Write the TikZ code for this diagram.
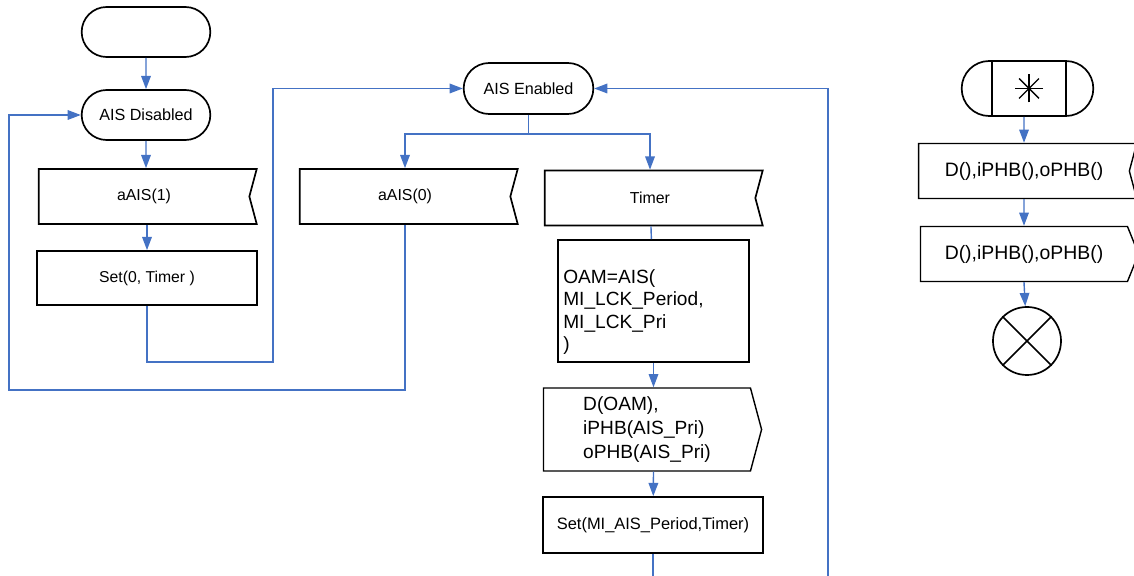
\documentclass[tikz,border=0pt]{standalone}
\usepackage{fontspec}
\setmainfont{Liberation Sans}
\usetikzlibrary{shapes.symbols,shapes.misc,arrows.meta}
\definecolor{linkblue}{HTML}{4472C4}
\begin{document}
\begin{tikzpicture}[x=0.025cm,y=-0.025cm,
		state/.style={draw,line width=1.2pt,rounded rectangle,minimum width=3.45cm,minimum height=1.25cm,font=\fontsize{11.5}{13}\selectfont},
		task/.style={draw,line width=1.2pt,rectangle,minimum width=5.5cm,minimum height=1.35cm,font=\fontsize{11.2}{13}\selectfont},
		insig/.style={draw,line width=1.2pt,signal,signal to=nowhere,signal from=east,signal pointer angle=150,minimum width=5.45cm,minimum height=1.375cm,font=\fontsize{11.3}{13}\selectfont},
		outsig/.style={draw,line width=1pt,signal,signal to=east,signal from=nowhere,minimum width=5.45cm,minimum height=1.375cm},
		flow/.style={color=linkblue,line width=1pt,-{Triangle[length=0.33cm,width=0.24cm]}},
		link/.style={color=linkblue,line width=1pt}]
	\useasboundingbox (0,0) rectangle (1134,576);
	\clip (0,0) rectangle (1134,576);

	\node[state] (start) at (146,32) {};
	\node[state] (disabled) at (146,115) {AIS Disabled};
	\node[insig] (aais1) at (144,196.5) {aAIS(1)};
	\node[task] (set0) at (147,278) {Set(0, Timer )};

	\node[state,minimum width=3.475cm,minimum height=1.275cm] (enabled) at (528.5,88.5) {AIS Enabled};
	\node[insig] (aais0) at (405,196.5) {aAIS(0)};
	\node[insig] (timer) at (650,198) {Timer};
	\node[task,minimum width=4.775cm,minimum height=3.05cm] (oam) at (653.5,301) {};
	\node[anchor=west,align=left,inner sep=0pt,font=\fontsize{13.6}{16}\selectfont] (oamtxt) at (563,312) {OAM=AIS(\\MI\_LCK\_Period,\\MI\_LCK\_Pri\\)};
	\node[outsig,minimum height=2.075cm,signal pointer angle=150,align=left,font=\fontsize{13.6}{17}\selectfont] (doam) at (647,429.5) {D(OAM),\\iPHB(AIS\_Pri)\\oPHB(AIS\_Pri)};
	\node[task,minimum height=1.4cm,font=\fontsize{11.7}{13}\selectfont] (setais) at (653,525) {Set(MI\_AIS\_Period,Timer)};
	\coordinate (outB) at (653,576);
	\coordinate (backB) at (828,576);

	\node[state,minimum width=3.525cm,minimum height=1.375cm] (star) at (1027.5,88.5) {};
	\node[draw,line width=1.2pt,minimum width=1.85cm,minimum height=1.375cm] (sym) at (1029,88.5) {};
	\foreach \a in {0,45,90,135}
		\draw[line width=1pt] (sym.center) +(\a:14) -- +(\a+180:14);
	\node[insig,line width=1pt,font=\fontsize{13.8}{15}\selectfont] (recv) at (1024,171) {D(),iPHB(),oPHB()};
	\node[outsig,signal pointer angle=136,font=\fontsize{13.8}{15}\selectfont] (send) at (1024,254) {D(),iPHB(),oPHB()};
	\node[draw,circle,line width=1.2pt,minimum size=1.7cm] (stop) at (1027,341) {};
	\draw[line width=1.2pt] (stop.45) -- (stop.225);
	\draw[line width=1.2pt] (stop.135) -- (stop.315);

	\path [flow](start) edge (disabled);
	\path [flow](disabled) edge (disabled |- aais1.north);
	\path [flow](aais1.south -| set0) edge (set0);
	\draw [flow](set0.south) -- ++(0,56) -- ++(126,0) |- (enabled.west);
	\draw [flow](aais0.south) -- ++(0,165) -- ++(-396,0) |- (disabled.west);
	\draw [flow](enabled.south) -- ++(0,19) -| (aais0.north);
	\draw [flow](enabled.south) -- ++(0,19) -| (timer.north);
	\path [link](timer) edge (oam);
	\path [flow](oam) edge (oam |- doam.north);
	\path [flow](oam |- doam.south) edge (setais);
	\path [link](setais) edge (outB);
	\draw [flow](backB) |- (enabled.east);

	\path [flow](star.south -| recv) edge (recv);
	\path [flow](recv) edge (recv |- send.north);
	\path [flow](recv |- send.south) edge (stop);
\end{tikzpicture}
\end{document}
